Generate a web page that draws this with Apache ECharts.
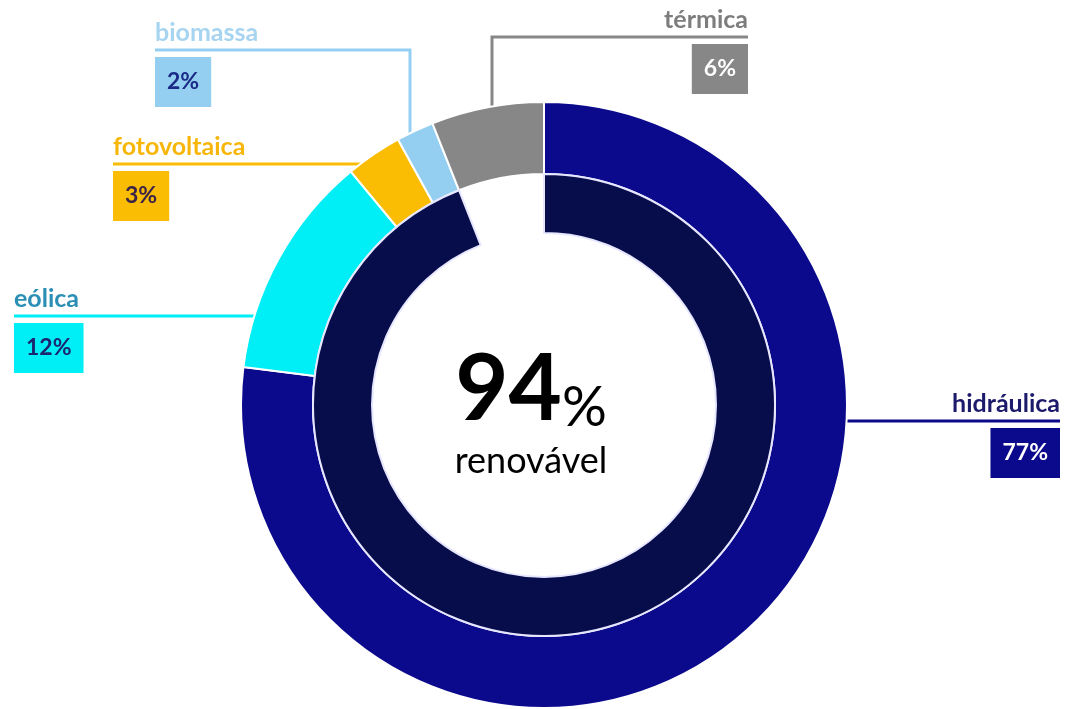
<!DOCTYPE html>
<html>
<head>
<meta charset="utf-8">
<script src="https://cdn.jsdelivr.net/npm/echarts@6/dist/echarts.min.js"></script>
<style>
  html, body { margin: 0; padding: 0; background: #fff; }
  #chart { width: 1067px; height: 709px; }
</style>
</head>
<body>
<div id="chart"></div>
<script>
// data
const sources = ['hidráulica', 'eólica', 'fotovoltaica', 'biomassa', 'térmica']
const shares = [77, 12, 3, 2, 6]
const isRenewable = [true, true, true, true, false]

const renewableShare = shares.reduce((s, v, i) => isRenewable[i] ? s + v : s, 0)

// styles
const font = 'Lato'
const fills = ['#0b0a8c', '#00eef5', '#fbbc04', '#94cff2', '#878787']
const nameColors = ['#1b1a6b', '#2b8fb5', '#f6b60a', '#a7d4f0', '#7d7d7d']
const boxText = ['#ffffff', '#1b2670', '#3b2448', '#1b2a86', '#ffffff']
const innerColor = '#070c4a'

// ring geometry
const cx = 544
const cy = 405
const rIn = 172
const rMid = 231
const rOut = 303

// callout placement: x = outer edge of the label, lineY = underline, dropX = vertical leg
const callouts = [
  { x: 1060, lineY: 421, side: 'right' },
  { x: 14, lineY: 316, side: 'left' },
  { x: 113, lineY: 164, side: 'left' },
  { x: 155, lineY: 50, side: 'left', dropX: 410 },
  { x: 748, lineY: 37, side: 'right', dropX: 492 }
]

const chart = echarts.init(document.getElementById('chart'))

const outerData = sources.map((name, i) => ({
  name: name,
  value: shares[i],
  itemStyle: { color: fills[i] },
  labelLine: { lineStyle: { color: fills[i], width: 3 } },
  label: {
    formatter: '{n|{b}}\n{v|{c}%}',
    rich: {
      n: {
        fontFamily: font,
        fontSize: 25,
        fontWeight: 'bold',
        color: nameColors[i],
        lineHeight: 48
      },
      v: {
        fontFamily: font,
        fontSize: 23,
        fontWeight: 'bold',
        color: boxText[i],
        backgroundColor: fills[i],
        height: 50,
        lineHeight: 50,
        padding: [0, 12],
        align: callouts[i].side
      }
    }
  }
}))

chart.setOption({
  animation: false,
  graphic: [
    {
      type: 'text',
      silent: true,
      style: {
        x: 531,
        y: 344,
        align: 'center',
        verticalAlign: 'top',
        text: '{v|' + renewableShare + '}{p|%}\n{s|renovável}',
        rich: {
          v: { fontFamily: font, fontSize: 92, fontWeight: 'bold', color: '#0d1450', lineHeight: 92 },
          p: { fontFamily: font, fontSize: 56, fontWeight: 'normal', color: '#0d1450', lineHeight: 92, verticalAlign: 'bottom' },
          s: { fontFamily: font, fontSize: 36, color: '#2c3060', lineHeight: 50 }
        }
      }
    }
  ],
  series: [
    {
      type: 'pie',
      silent: true,
      center: [cx, cy],
      radius: [rMid, rOut],
      startAngle: 90,
      clockwise: true,
      avoidLabelOverlap: false,
      itemStyle: { borderColor: '#ffffff', borderWidth: 2 },
      label: { show: true, position: 'outside' },
      labelLine: { show: true, smooth: false },
      labelLayout: function (params) {
        const c = callouts[params.dataIndex]
        const pts = []
        if (c.dropX != null) {
          pts.push([c.dropX, cy - Math.sqrt(rOut * rOut - (c.dropX - cx) * (c.dropX - cx)) + 1])
          pts.push([c.dropX, c.lineY])
        } else {
          const dx = Math.sqrt(rOut * rOut - (c.lineY - cy) * (c.lineY - cy)) - 1
          const start = [c.side === 'right' ? cx + dx : cx - dx, c.lineY]
          pts.push(start)
          pts.push(start.slice())
        }
        pts.push([c.x, c.lineY])
        return {
          x: c.x,
          y: c.lineY - 41,
          align: c.side,
          verticalAlign: 'top',
          labelLinePoints: pts
        }
      },
      data: outerData
    },
    {
      type: 'pie',
      silent: true,
      center: [cx, cy],
      radius: [rIn, rMid],
      startAngle: 90,
      clockwise: true,
      label: { show: false },
      labelLine: { show: false },
      data: [
        { name: 'renovável', value: renewableShare, itemStyle: { color: innerColor, borderColor: '#e6e6ff', borderWidth: 2 } },
        { name: 'não renovável', value: 100 - renewableShare, itemStyle: { color: 'rgba(0,0,0,0)', borderWidth: 0 } }
      ]
    }
  ]
})
</script>
</body>
</html>
